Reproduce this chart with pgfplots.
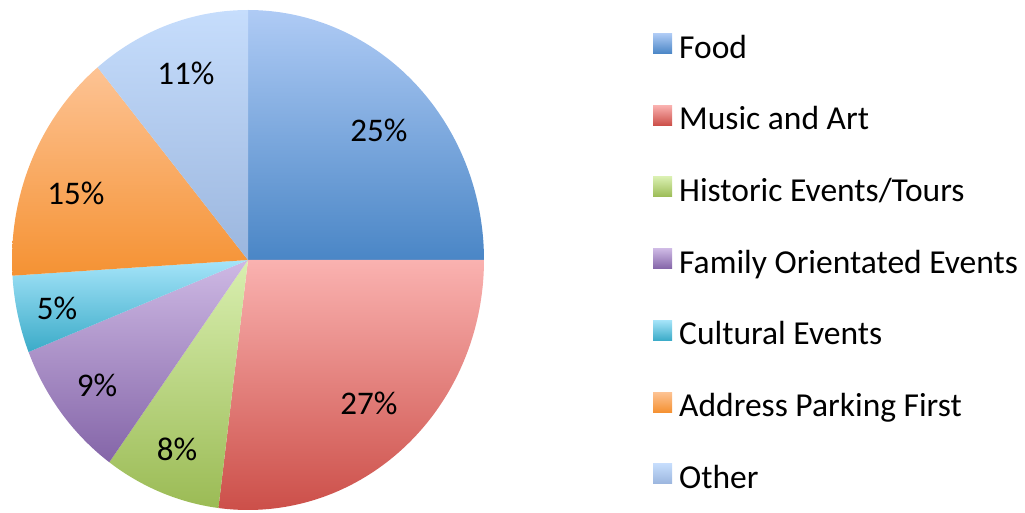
\documentclass[border=0pt]{standalone}
\usepackage{fontspec}
\setmainfont{Carlito}
\usepackage{pgfplots}
\pgfplotsset{compat=1.18}
\definecolor{fA}{HTML}{AFCBF5}\definecolor{fB}{HTML}{4A86C6}
\definecolor{mA}{HTML}{FAB2B0}\definecolor{mB}{HTML}{CC4F49}
\definecolor{hA}{HTML}{D9EFB0}\definecolor{hB}{HTML}{9BBB55}
\definecolor{yA}{HTML}{CEB9E4}\definecolor{yB}{HTML}{8465A8}
\definecolor{cA}{HTML}{A5E4F9}\definecolor{cB}{HTML}{3BABC8}
\definecolor{pA}{HTML}{FDC394}\definecolor{pB}{HTML}{F59233}
\definecolor{oA}{HTML}{C6DDFC}\definecolor{oB}{HTML}{9BB6DE}
% percentages (clockwise from 12 o'clock)
\def\vFood{25}\def\vMusic{27}\def\vHist{8}\def\vFam{9}\def\vCult{5}\def\vPark{15}\def\vOther{11}
\pgfmathsetmacro{\aA}{90}
\pgfmathsetmacro{\aB}{\aA-3.6*\vFood}
\pgfmathsetmacro{\aC}{\aB-3.6*\vMusic}
\pgfmathsetmacro{\aD}{\aC-3.6*\vHist}
\pgfmathsetmacro{\aE}{\aD-3.6*\vFam}
\pgfmathsetmacro{\aF}{\aE-3.6*\vCult}
\pgfmathsetmacro{\aG}{\aF-3.6*\vPark}
\pgfmathsetmacro{\aH}{\aG-3.6*\vOther}
\newcommand{\bigfont}{\fontsize{33}{40}\selectfont}
\newcommand{\legfont}{\fontsize{33.5}{40}\selectfont}
\begin{document}
\begin{tikzpicture}
\begin{axis}[
  width=1025pt, height=513pt, scale only axis,
  xmin=0, xmax=1025, ymin=0, ymax=513,
  hide axis, clip=false,
  legend cell align=left,
  legend style={at={(653/1025,479.7/513)}, anchor=north west, draw=none, fill=none,
    inner sep=0pt, row sep=39.2pt, column sep=0pt,
    /tikz/every odd column/.append style={column sep=7pt},
    nodes={inner sep=0pt, text height=23pt, text depth=8pt, font=\legfont}},
  legend image code/.code={\path[#1, draw=none] (0pt,-3pt) rectangle (19pt,17pt);},
  every axis plot/.append style={draw=none, samples=80, variable=\t},
]
\addplot[top color=fA, bottom color=fB, domain=\aB:\aA] ({248+236*cos(t)},{253+250*sin(t)}) -- (axis cs:248,253) -- cycle;
\addlegendentry{Food}
\addplot[top color=mA, bottom color=mB, domain=\aC:\aB] ({248+236*cos(t)},{253+250*sin(t)}) -- (axis cs:248,253) -- cycle;
\addlegendentry{Music and Art}
\addplot[top color=hA, bottom color=hB, domain=\aD:\aC] ({248+236*cos(t)},{253+250*sin(t)}) -- (axis cs:248,253) -- cycle;
\addlegendentry{Historic Events/Tours}
\addplot[top color=yA, bottom color=yB, domain=\aE:\aD] ({248+236*cos(t)},{253+250*sin(t)}) -- (axis cs:248,253) -- cycle;
\addlegendentry{Family Orientated Events}
\addplot[top color=cA, bottom color=cB, domain=\aF:\aE] ({248+236*cos(t)},{253+250*sin(t)}) -- (axis cs:248,253) -- cycle;
\addlegendentry{Cultural Events}
\addplot[top color=pA, bottom color=pB, domain=\aG:\aF] ({248+236*cos(t)},{253+250*sin(t)}) -- (axis cs:248,253) -- cycle;
\addlegendentry{Address Parking First}
\addplot[top color=oA, bottom color=oB, domain=\aH:\aG] ({248+236*cos(t)},{253+250*sin(t)}) -- (axis cs:248,253) -- cycle;
\addlegendentry{Other}
\node[anchor=base, font=\bigfont] at (axis cs:379,371) {\vFood\%};
\node[anchor=base, font=\bigfont] at (axis cs:369,98) {\vMusic\%};
\node[anchor=base, font=\bigfont] at (axis cs:177,52) {\vHist\%};
\node[anchor=base, font=\bigfont] at (axis cs:97,116) {\vFam\%};
\node[anchor=base, font=\bigfont] at (axis cs:57,193) {\vCult\%};
\node[anchor=base, font=\bigfont] at (axis cs:76,308) {\vPark\%};
\node[anchor=base, font=\bigfont] at (axis cs:186,428) {\vOther\%};
\end{axis}
\pgfresetboundingbox
\path (current axis.south west) rectangle (current axis.north east);
\end{tikzpicture}
\end{document}
